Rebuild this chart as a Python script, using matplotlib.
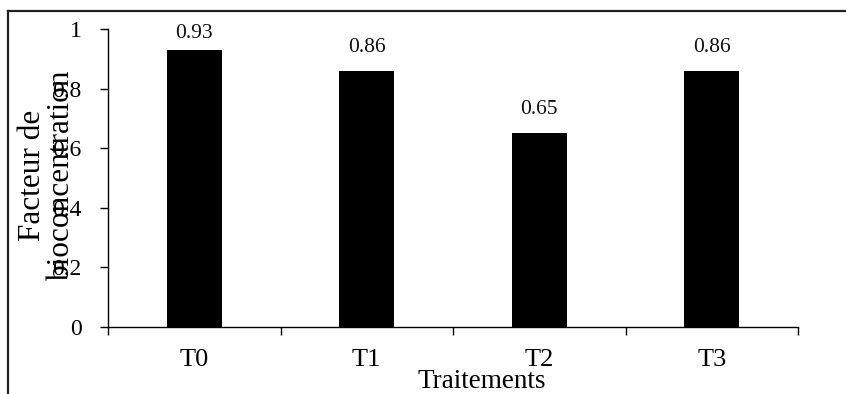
import matplotlib
matplotlib.use("Agg")
import matplotlib.pyplot as plt
from matplotlib.lines import Line2D

# Data
traitements = ["T0", "T1", "T2", "T3"]
facteur = [0.93, 0.86, 0.65, 0.86]
y_ticks = [0, 0.2, 0.4, 0.6, 0.8, 1]
y_tick_labels = ["0", "0.2", "0.4", "0.6", "0.8", "1"]

plt.rcParams["font.family"] = ["Liberation Serif", "DejaVu Serif"]

W, H = 846, 394
fig = plt.figure(figsize=(W / 100, H / 100), dpi=100)
ax = fig.add_axes([108 / W, 1 - 327 / H, 690 / W, 298 / H])

x = list(range(len(traitements)))
ax.bar(x, facteur, width=0.32, color="black", zorder=2)

# value labels above bars (kept inside the plot area)
for xi, v in zip(x, facteur):
    ax.text(xi, min(v + 0.064, 0.97), f"{v:.2f}", ha="center", va="baseline",
            fontsize=15.5, color="#111111")

ax.set_xlim(-0.5, len(traitements) - 0.5)
ax.set_ylim(0, 1)

ax.spines["top"].set_visible(False)
ax.spines["right"].set_visible(False)
for s in ("left", "bottom"):
    ax.spines[s].set_linewidth(1.0)
    ax.spines[s].set_color("black")

ax.set_yticks(y_ticks)
ax.set_yticklabels(y_tick_labels)
ax.tick_params(axis="y", direction="out", length=6, width=1, pad=13, labelsize=17)

# category labels in the middle, tick marks on the boundaries
ax.set_xticks(x)
ax.set_xticklabels(traitements)
ax.set_xticks([i - 0.5 for i in range(len(traitements) + 1)], minor=True)
ax.tick_params(axis="x", which="major", length=0, pad=16, labelsize=19)
ax.tick_params(axis="x", which="minor", direction="out", length=6, width=1)

ax.set_xlabel("Traitements", fontsize=19.5)
ax.xaxis.set_label_coords((482 - 108) / 690, (327 - 369) / 298)

fig.text(47 / W, 1 - 175 / H, "Facteur de\nbioconcentration", rotation=90,
         ha="center", va="center", multialignment="center", fontsize=22.5,
         linespacing=1.0)

# outer frame (top and left edges)
fig.add_artist(Line2D([8 / W, 1.0], [1 - 11 / H, 1 - 11 / H], color="#222222",
                      linewidth=1.6, transform=fig.transFigure))
fig.add_artist(Line2D([8 / W, 8 / W], [1 - 11 / H, 0.0], color="#222222",
                      linewidth=1.6, transform=fig.transFigure))

fig.savefig("out.png", dpi=100)
